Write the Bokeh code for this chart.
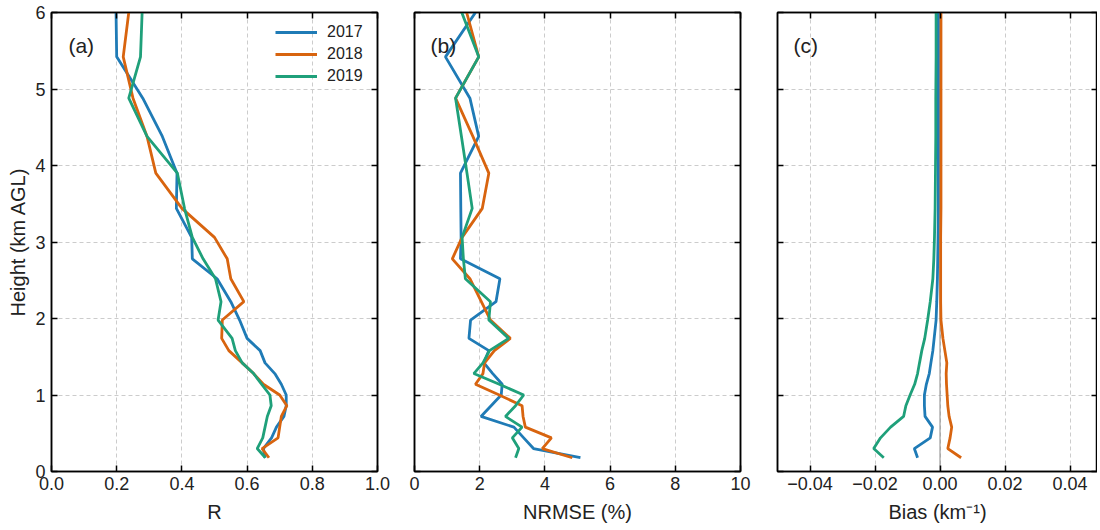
from bokeh.plotting import figure
from bokeh.models import (LinearAxis, FixedTicker, Range1d, Label, Span, Legend,
                          LegendItem, CustomJSTickFormatter)
from bokeh.layouts import row
from bokeh.embed import file_html
from bokeh.resources import INLINE

# ---------------- data ----------------
heights = [0.18, 0.30, 0.44, 0.58, 0.72, 0.86, 1.00, 1.14, 1.28, 1.42, 1.58, 1.74,
           1.98, 2.22, 2.52, 2.78, 3.06, 3.44, 3.90, 4.38, 4.88, 5.42, 6.0]

years = ["2017", "2018", "2019"]

r_2017 = [0.655, 0.65, 0.675, 0.69, 0.713, 0.72, 0.72, 0.705, 0.685, 0.655, 0.64, 0.60,
          0.577, 0.55, 0.508, 0.432, 0.43, 0.383, 0.385, 0.34, 0.28, 0.20, 0.198]
r_2018 = [0.667, 0.646, 0.695, 0.70, 0.705, 0.722, 0.70, 0.65, 0.62, 0.585, 0.544, 0.522,
          0.524, 0.59, 0.55, 0.539, 0.50, 0.40, 0.32, 0.293, 0.25, 0.22, 0.237]
r_2019 = [0.656, 0.631, 0.648, 0.655, 0.662, 0.674, 0.67, 0.645, 0.62, 0.585, 0.564, 0.554,
          0.511, 0.52, 0.503, 0.465, 0.432, 0.408, 0.386, 0.293, 0.237, 0.273, 0.278]

nrmse_2017 = [5.09, 3.65, 3.35, 3.05, 2.04, 2.35, 2.66, 2.69, 2.4, 2.13, 2.28, 1.67,
              1.72, 2.50, 2.62, 1.41, 1.43, 1.42, 1.41, 1.97, 1.70, 0.95, 1.87]
nrmse_2018 = [4.84, 3.92, 4.2, 3.4, 3.33, 3.30, 2.6, 1.87, 2.1, 2.15, 2.45, 2.94,
              2.33, 2.05, 1.70, 1.16, 1.46, 2.08, 2.28, 1.79, 1.26, 1.97, 1.6]
nrmse_2019 = [3.1, 3.2, 3.0, 3.30, 2.79, 3.1, 3.35, 2.6, 1.82, 2.1, 2.3, 2.89,
              2.28, 2.33, 1.56, 1.50, 1.46, 1.77, 1.61, 1.44, 1.26, 1.97, 1.45]

bias_2017 = [-0.0069, -0.0079, -0.0030, -0.0023, -0.0046, -0.0048, -0.0048, -0.0042,
             -0.0033, -0.0028, -0.0022, -0.0018, -0.0012, -0.0010, -0.0008, -0.0007,
             -0.0006, -0.0005, -0.0005, -0.0005, -0.0005, -0.0005, -0.0005]
bias_2018 = [0.0065, 0.0024, 0.0031, 0.0036, 0.0028, 0.0024, 0.0022, 0.0020, 0.0019,
             0.0021, 0.0015, 0.0009, 0.0003, 0.0002, 0.0002, 0.0002, 0.0002, 0.0003,
             0.0003, 0.0003, 0.0003, 0.0003, 0.0003]
bias_2019 = [-0.0173, -0.0204, -0.0183, -0.0152, -0.0112, -0.0105, -0.0092, -0.0078,
             -0.0069, -0.0063, -0.0056, -0.0047, -0.0038, -0.0030, -0.0022, -0.0019,
             -0.0017, -0.0015, -0.0014, -0.0013, -0.0013, -0.0012, -0.0012]

r_ticks = [0.0, 0.2, 0.4, 0.6, 0.8, 1.0]
nrmse_ticks = [0, 2, 4, 6, 8, 10]
bias_ticks = [-0.04, -0.02, 0.0, 0.02, 0.04]
y_ticks = [0, 1, 2, 3, 4, 5, 6]

colors = ["#1f7bb6", "#d8640f", "#1fa07a"]
FONT = "Liberation Sans"


def fmt(digits):
    return CustomJSTickFormatter(
        code="return tick.toFixed(%d).replace('-', '\\u2212');" % digits)


blank = CustomJSTickFormatter(code="return '';")


def make_panel(xr, xticks, xdigits, xlabel, ylabels, mb_left, mb_right, fw):
    p = figure(frame_width=fw, frame_height=459, x_range=Range1d(*xr),
               y_range=Range1d(0, 6), output_backend="svg", toolbar_location=None,
               min_border_left=mb_left, min_border_right=mb_right,
               min_border_top=12, min_border_bottom=57)
    p.add_layout(LinearAxis(), "above")
    p.add_layout(LinearAxis(), "right")
    p.background_fill_color = "white"
    p.border_fill_color = "white"
    p.outline_line_color = "black"
    p.outline_line_width = 1.5
    for ax in p.axis:
        ax.major_tick_in = 6
        ax.major_tick_out = 0
        ax.minor_tick_line_color = None
        ax.major_tick_line_width = 1.5
        ax.major_tick_line_color = "black"
        ax.axis_line_color = "black"
        ax.axis_line_width = 1.5
        ax.major_label_text_font = FONT
        ax.major_label_text_font_size = "18px"
        ax.major_label_text_color = "#222222"
        ax.axis_label_text_font = FONT
        ax.axis_label_text_font_size = "20px"
        ax.axis_label_text_font_style = "normal"
        ax.axis_label_text_color = "#222222"
    for ax in p.below + p.above:
        ax.ticker = FixedTicker(ticks=xticks)
    for ax in p.left + p.right:
        ax.ticker = FixedTicker(ticks=y_ticks)
    p.below[0].formatter = fmt(xdigits)
    p.below[0].major_label_standoff = 5
    p.below[0].axis_label = xlabel
    p.below[0].axis_label_standoff = 8
    hidden = p.above + p.right
    if ylabels:
        p.left[0].formatter = fmt(0)
        p.left[0].major_label_standoff = 6
        p.left[0].axis_label = "Height (km AGL)"
        p.left[0].axis_label_standoff = 3
    else:
        hidden = hidden + p.left
    for ax in hidden:
        ax.formatter = blank
        ax.major_label_text_font_size = "1px"
        ax.major_label_standoff = 0
    p.xgrid.ticker = FixedTicker(ticks=xticks)
    p.ygrid.ticker = FixedTicker(ticks=y_ticks)
    for g in (p.xgrid, p.ygrid):
        g.grid_line_color = "#cccccc"
        g.grid_line_dash = "4 3"
        g.grid_line_width = 1
    return p


pa = make_panel((0, 1), r_ticks, 1, "R", True, 51, 18, 326)
pb = make_panel((0, 10), nrmse_ticks, 0, "NRMSE (%)", False, 19, 18, 326)
pc = make_panel((-0.05, -0.05 + 320 / 3250), bias_ticks, 2, "Bias (km\u207b\u00b9)",
                False, 19, 0, 320)

pc.add_layout(Span(location=0, dimension="height", line_color="#888888",
                   line_width=1, level="underlay"))

series = [
    (pa, [r_2017, r_2018, r_2019]),
    (pb, [nrmse_2017, nrmse_2018, nrmse_2019]),
    (pc, [bias_2017, bias_2018, bias_2019]),
]
legend_renderers = []
for p, vals in series:
    for i, v in enumerate(vals):
        r = p.line(v, heights, line_color=colors[i], line_width=2.8)
        if p is pa:
            legend_renderers.append(r)

legend = Legend(items=[LegendItem(label=years[i], renderers=[legend_renderers[i]])
                       for i in range(3)],
                location=(224, 384), border_line_color=None, background_fill_alpha=0,
                label_text_font=FONT, label_text_font_size="16px",
                label_text_color="#222222", glyph_width=42, glyph_height=22,
                label_height=22, spacing=0, padding=0, margin=0, label_standoff=10)
pa.add_layout(legend)

for p, x, t in [(pa, 0.052, "(a)"), (pb, 0.49, "(b)"), (pc, -0.0451, "(c)")]:
    p.add_layout(Label(x=x, y=5.57, text=t, text_font=FONT, text_font_size="21px",
                       text_baseline="middle", text_align="left", text_color="#222222"))

layout = row(pa, pb, pc)
open("out.html", "w").write(file_html(layout, INLINE))
